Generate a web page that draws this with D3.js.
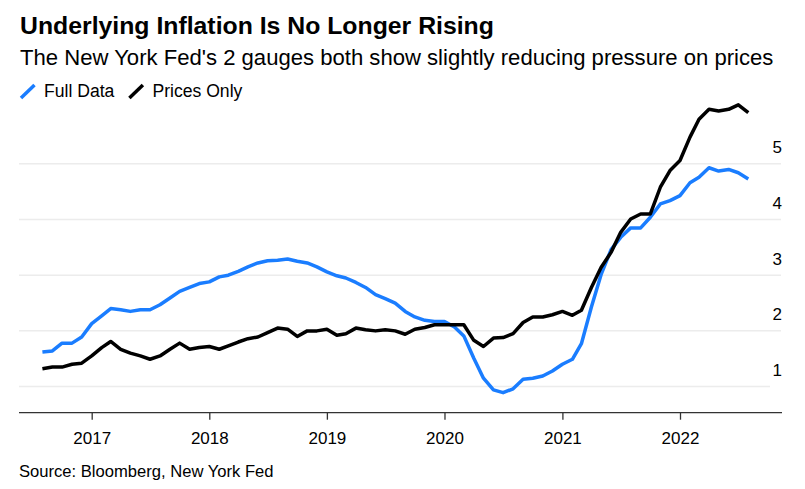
<!DOCTYPE html>
<html>
<head>
<meta charset="utf-8">
<script src="https://cdn.jsdelivr.net/npm/d3@7"></script>
<style>
  body { margin: 0; background: #fff; }
  svg { font-family: "Liberation Sans", Arial, sans-serif; }
</style>
</head>
<body>
<div id="chart"></div>
<script>
// monthly readings, Aug 2016 - Aug 2022
const startMonth = new Date(2016, 7, 1)
const endMonth = new Date(2022, 7, 1)

const fullData = [
  1.61, 1.63, 1.77, 1.77, 1.88,
  2.12, 2.26, 2.39, 2.37, 2.34, 2.37, 2.37, 2.46, 2.58, 2.70, 2.77, 2.84,
  2.87, 2.96, 2.99, 3.06, 3.14, 3.21, 3.25, 3.26, 3.28, 3.24, 3.21, 3.14,
  3.05, 2.98, 2.94, 2.86, 2.77, 2.64, 2.57, 2.49, 2.34, 2.24, 2.18, 2.16,
  2.16, 2.06, 1.90, 1.50, 1.14, 0.93, 0.88, 0.95, 1.12, 1.14, 1.18, 1.27,
  1.39, 1.48, 1.76, 2.42, 3.00, 3.45, 3.67, 3.84, 3.84, 4.03, 4.27, 4.33,
  4.42, 4.65, 4.75, 4.92, 4.86, 4.89, 4.83, 4.72
]

const pricesOnly = [
  1.31, 1.34, 1.34, 1.39, 1.41,
  1.54, 1.69, 1.80, 1.66, 1.59, 1.54, 1.48, 1.54, 1.66, 1.77, 1.66, 1.69,
  1.71, 1.66, 1.72, 1.79, 1.85, 1.88, 1.96, 2.04, 2.02, 1.89, 1.99, 1.99,
  2.02, 1.91, 1.94, 2.04, 2.01, 1.99, 2.01, 1.99, 1.93, 2.02, 2.05, 2.10,
  2.10, 2.10, 2.10, 1.82, 1.71, 1.86, 1.87, 1.94, 2.14, 2.24, 2.24, 2.28,
  2.34, 2.27, 2.36, 2.77, 3.13, 3.40, 3.76, 4.00, 4.09, 4.09, 4.57, 4.87,
  5.05, 5.47, 5.79, 5.97, 5.94, 5.97, 6.05, 5.91
]

const yTicks = [1, 2, 3, 4, 5]
const xTickYears = [2017, 2018, 2019, 2020, 2021, 2022]

const series = [
  { name: "Full Data", values: fullData, color: "#1a7dff" },
  { name: "Prices Only", values: pricesOnly, color: "#000000" }
]

const WIDTH = 805
const HEIGHT = 489
const LEFT = 19
const RIGHT = 782
const AXIS_Y = 412.7

const months = d3.timeMonth.range(startMonth, d3.timeMonth.offset(endMonth, 1))

const svg = d3.select("#chart").append("svg")
  .attr("width", WIDTH)
  .attr("height", HEIGHT)

const x = d3.scaleTime()
  .domain([startMonth, endMonth])
  .range([42.4, 748.3])

const y = d3.scaleLinear()
  .domain([1, 5])
  .range([386, 163.3])

// header
svg.append("text")
  .attr("x", 20).attr("y", 34)
  .attr("font-size", "24.8px")
  .attr("font-weight", "bold")
  .attr("fill", "#000")
  .text("Underlying Inflation Is No Longer Rising")

svg.append("text")
  .attr("x", 20).attr("y", 65)
  .attr("font-size", "22.1px")
  .attr("fill", "#000")
  .text("The New York Fed's 2 gauges both show slightly reducing pressure on prices")

// legend
const legend = svg.append("g")
let lx = 21
series.forEach(s => {
  legend.append("line")
    .attr("x1", lx).attr("y1", 98)
    .attr("x2", lx + 13.5).attr("y2", 85)
    .attr("stroke", s.color)
    .attr("stroke-width", 3.5)
  const t = legend.append("text")
    .attr("x", lx + 23).attr("y", 97)
    .attr("font-size", "17.6px")
    .attr("fill", "#000")
    .text(s.name)
  lx += 23 + t.node().getComputedTextLength() + 15
})

// y grid + labels
const yAxis = svg.append("g")
  .attr("transform", `translate(${LEFT},0)`)
  .call(d3.axisRight(y).tickValues(yTicks).tickSize(RIGHT - LEFT - 1).tickFormat(d3.format("d")))

yAxis.select(".domain").remove()
yAxis.selectAll(".tick line")
  .attr("stroke", "#ececec")
  .attr("stroke-width", 1.5)
  .filter(d => d === 1)
  .attr("x2", 770 - LEFT)
yAxis.selectAll(".tick text")
  .attr("x", RIGHT - LEFT)
  .attr("dy", "-10.6")
  .attr("text-anchor", "end")
  .attr("font-size", "17px")
  .attr("font-family", "Liberation Sans, Arial, sans-serif")
  .attr("fill", "#000")

// x axis
const xAxis = svg.append("g")
  .attr("transform", `translate(0,${AXIS_Y})`)
  .call(d3.axisBottom(x)
    .tickValues(xTickYears.map(yr => new Date(yr, 0, 1)))
    .tickSize(7)
    .tickFormat(d3.timeFormat("%Y")))

xAxis.select(".domain").remove()
xAxis.append("line")
  .attr("x1", LEFT).attr("x2", RIGHT)
  .attr("stroke", "#333")
  .attr("stroke-width", 1.3)
xAxis.selectAll(".tick line")
  .attr("stroke", "#333")
  .attr("stroke-width", 1.3)
xAxis.selectAll(".tick text")
  .attr("y", 31.3)
  .attr("dy", 0)
  .attr("font-size", "17px")
  .attr("font-family", "Liberation Sans, Arial, sans-serif")
  .attr("fill", "#000")

// lines
const line = d3.line()
  .x((d, i) => x(months[i]))
  .y(d => y(d))

svg.selectAll(".series")
  .data(series)
  .enter().append("path")
  .attr("class", "series")
  .attr("fill", "none")
  .attr("stroke", d => d.color)
  .attr("stroke-width", 3.5)
  .attr("stroke-linejoin", "round")
  .attr("stroke-linecap", "butt")
  .attr("d", d => line(d.values))

// source
svg.append("text")
  .attr("x", 19).attr("y", 476.5)
  .attr("font-size", "16.6px")
  .attr("fill", "#000")
  .text("Source: Bloomberg, New York Fed")
</script>
</body>
</html>
